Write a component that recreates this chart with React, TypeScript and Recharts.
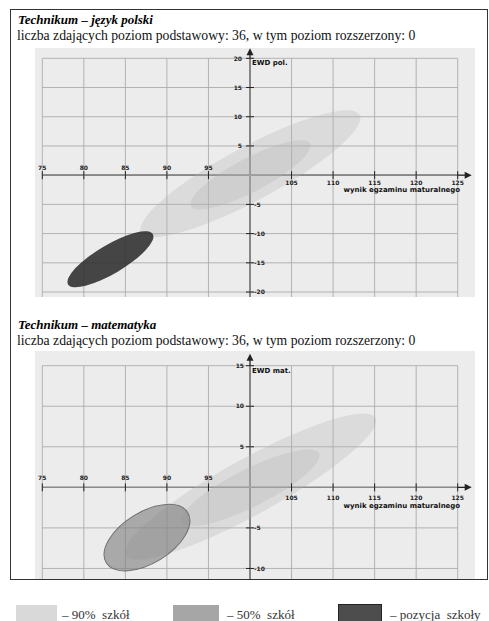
import React from "react";
import { ScatterChart, Scatter, XAxis, YAxis, ReferenceLine } from "recharts";

const xTicks = [75, 80, 85, 90, 95, 100, 105, 110, 115, 120, 125];
const polYTicks = [-20, -15, -10, -5, 0, 5, 10, 15, 20];
const matYTicks = [-10, -5, 0, 5, 10, 15];

const xName = "wynik egzaminu maturalnego";

// each ellipse: two ends of the long axis, then one end of the short axis
const polAll = [
  { x: 86.9, y: -9.8 },
  { x: 113.2, y: 10.3 },
  { x: 101.6, y: -3.8 },
];
const polHalf = [
  { x: 92.9, y: -5.3 },
  { x: 107.2, y: 5.4 },
  { x: 101.0, y: -2.5 },
];
const polSchool = [
  { x: 78.1, y: -18.7 },
  { x: 88.3, y: -10.1 },
  { x: 84.1, y: -16.5 },
];

const matAll = [
  { x: 85.0, y: -8.4 },
  { x: 115.1, y: 8.6 },
  { x: 101.7, y: -2.9 },
];
const matHalf = [
  { x: 91.8, y: -4.3 },
  { x: 108.3, y: 4.2 },
  { x: 101.1, y: -2.1 },
];
const matSchool = [
  { x: 82.7, y: -9.3 },
  { x: 92.5, y: -3.1 },
  { x: 89.2, y: -8.9 },
];

const AXIS = "#222";
const GRID = "#ababab";
const SANS = "DejaVu Sans";
const SERIF = "Liberation Serif";

function ellipseLine(fill: string, opacity: number, stroke?: string) {
  return (props: any) => {
    const pts = props.points;
    if (!pts || pts.length < 3) return <g />;
    const [p1, p2, m] = pts;
    const cx = (p1.x + p2.x) / 2;
    const cy = (p1.y + p2.y) / 2;
    const dx = p2.x - p1.x;
    const dy = p2.y - p1.y;
    const len = Math.hypot(dx, dy);
    const ry = Math.abs((m.x - cx) * dy - (m.y - cy) * dx) / len;
    const angle = (Math.atan2(dy, dx) * 180) / Math.PI;
    return (
      <ellipse
        cx={cx}
        cy={cy}
        rx={len / 2}
        ry={ry}
        transform={`rotate(${angle} ${cx} ${cy})`}
        fill={fill}
        fillOpacity={opacity}
        stroke={stroke || "none"}
        strokeWidth={1}
      />
    );
  };
}

// grid: consecutive point pairs become one segment each
const gridLines = (props: any) => {
  const pts = props.points || [];
  let d = "";
  for (let i = 0; i + 1 < pts.length; i += 2) {
    d += `M${pts[i].x},${pts[i].y}L${pts[i + 1].x},${pts[i + 1].y}`;
  }
  return <path d={d} stroke={GRID} strokeWidth={0.9} fill="none" />;
};

const noDot = () => <g />;

type PanelProps = {
  top: number;
  height: number;
  gridTop: number;
  yTicks: number[];
  yMin: number;
  yName: string;
  all: { x: number; y: number }[];
  half: { x: number; y: number }[];
  school: { x: number; y: number }[];
  schoolFill: string;
  schoolOpacity: number;
  schoolStroke?: string;
  arrowUp: number;
  labelAbove: number;
  labelBelow: number;
  nameBelow: number;
  yLabelGap: number;
};

function Panel(p: PanelProps) {
  const yMax = p.yTicks[p.yTicks.length - 1];
  const xMin = xTicks[0];
  const xMax = xTicks[xTicks.length - 1];
  const xTickPts = xTicks.filter((v) => v !== 100).map((v) => ({ x: v, y: 0 }));
  const yTickPts = p.yTicks.filter((v) => v !== 0).map((v) => ({ x: 100, y: v }));
  const vGrid = xTicks.flatMap((v) => [
    { x: v, y: yMax },
    { x: v, y: p.yMin },
  ]);
  const hGrid = p.yTicks.flatMap((v) => [
    { x: xMin, y: v },
    { x: xMax, y: v },
  ]);
  const tips = [
    { x: xMax, y: 0, kind: "x", name: xName },
    { x: 100, y: yMax, kind: "y", name: p.yName },
  ];

  const xTickShape = (s: any) => {
    const v = s.payload.x;
    const below = v > 100;
    return (
      <g>
        <line x1={s.cx} x2={s.cx} y1={s.cy - 4} y2={s.cy + 4} stroke={AXIS} strokeWidth={1} />
        <text
          x={s.cx}
          y={below ? s.cy + p.labelBelow : s.cy - p.labelAbove}
          textAnchor="middle"
          fontFamily={SANS}
          fontWeight="bold"
          fontSize={6}
          fill="#222"
        >
          {v}
        </text>
      </g>
    );
  };

  const yTickShape = (s: any) => {
    const v = s.payload.y;
    const pos = v > 0;
    return (
      <g>
        <line x1={s.cx - 4} x2={s.cx + 4} y1={s.cy} y2={s.cy} stroke={AXIS} strokeWidth={1} />
        <text
          x={pos ? s.cx - p.yLabelGap : s.cx + 4}
          y={s.cy + 2.2}
          textAnchor={pos ? "end" : "start"}
          fontFamily={SANS}
          fontWeight="bold"
          fontSize={6}
          fill="#222"
        >
          {v}
        </text>
      </g>
    );
  };

  const tipShape = (s: any) => {
    const d = s.payload;
    if (d.kind === "x") {
      return (
        <g>
          <line x1={s.cx} x2={s.cx + 9} y1={s.cy} y2={s.cy} stroke={AXIS} strokeWidth={1.3} />
          <polygon
            points={`${s.cx + 14},${s.cy} ${s.cx + 7},${s.cy - 3.5} ${s.cx + 7},${s.cy + 3.5}`}
            fill={AXIS}
          />
          <text
            x={s.cx + 2.5}
            y={s.cy + p.nameBelow}
            textAnchor="end"
            fontFamily={SANS}
            fontWeight="bold"
            fontSize={7}
            fill="#111"
          >
            {d.name}
          </text>
        </g>
      );
    }
    const tip = s.cy - p.arrowUp;
    return (
      <g>
        <line x1={s.cx} x2={s.cx} y1={s.cy} y2={tip + 5} stroke={AXIS} strokeWidth={1.3} />
        <polygon
          points={`${s.cx},${tip} ${s.cx - 3.5},${tip + 7} ${s.cx + 3.5},${tip + 7}`}
          fill={AXIS}
        />
        <text
          x={s.cx + 2}
          y={s.cy + 7}
          fontFamily={SANS}
          fontWeight="bold"
          fontSize={7}
          fill="#111"
        >
          {d.name}
        </text>
      </g>
    );
  };

  return (
    <div
      style={{
        position: "absolute",
        left: 35,
        top: p.top,
        width: 440,
        height: p.height,
        background: "#ececec",
      }}
    >
      <ScatterChart
        width={440}
        height={p.height}
        margin={{ top: p.gridTop, right: 17.3, bottom: 0, left: 7.3 }}
      >
        <XAxis
          type="number"
          dataKey="x"
          domain={[xMin, xMax]}
          height={0}
          tick={false}
          tickLine={false}
          axisLine={false}
        />
        <YAxis
          type="number"
          dataKey="y"
          domain={[p.yMin, yMax]}
          width={0}
          tick={false}
          tickLine={false}
          axisLine={false}
        />
        <Scatter data={vGrid} line={gridLines} lineType="joint" shape={noDot} isAnimationActive={false} />
        <Scatter data={hGrid} line={gridLines} lineType="joint" shape={noDot} isAnimationActive={false} />
        <Scatter
          data={p.all}
          line={ellipseLine("#b2b2b2", 0.3)}
          lineType="joint"
          shape={noDot}
          isAnimationActive={false}
        />
        <Scatter
          data={p.half}
          line={ellipseLine("#b2b2b2", 0.3)}
          lineType="joint"
          shape={noDot}
          isAnimationActive={false}
        />
        <Scatter
          data={p.school}
          line={ellipseLine(p.schoolFill, p.schoolOpacity, p.schoolStroke)}
          lineType="joint"
          shape={noDot}
          isAnimationActive={false}
        />
        <ReferenceLine x={100} stroke={AXIS} strokeWidth={1.3} />
        <ReferenceLine y={0} stroke={AXIS} strokeWidth={1.3} />
        <Scatter data={xTickPts} shape={xTickShape} isAnimationActive={false} />
        <Scatter data={yTickPts} shape={yTickShape} isAnimationActive={false} />
        <Scatter data={tips} shape={tipShape} isAnimationActive={false} />
      </ScatterChart>
    </div>
  );
}

const titleStyle: React.CSSProperties = {
  position: "absolute",
  left: 18,
  fontFamily: SERIF,
  fontWeight: "bold",
  fontStyle: "italic",
  fontSize: 13,
  lineHeight: "13px",
  color: "#000",
  whiteSpace: "nowrap",
};

const subStyle: React.CSSProperties = {
  position: "absolute",
  left: 17,
  fontFamily: SERIF,
  fontSize: 13.7,
  lineHeight: "14px",
  color: "#111",
  whiteSpace: "nowrap",
};

const legendText: React.CSSProperties = {
  position: "absolute",
  top: 608,
  fontFamily: SERIF,
  fontSize: 13,
  lineHeight: "13px",
  color: "#333",
  whiteSpace: "pre",
};

export default function App() {
  return (
    <div
      style={{
        position: "absolute",
        left: 0,
        top: 0,
        width: 489,
        height: 621,
        background: "#fff",
        overflow: "hidden",
      }}
    >
      <div style={{ ...titleStyle, top: 13 }}>Technikum – język polski</div>
      <div style={{ ...subStyle, top: 29 }}>
        liczba zdających poziom podstawowy: 36, w tym poziom rozszerzony: 0
      </div>
      <Panel
        top={48}
        height={249}
        gridTop={10.3}
        yTicks={polYTicks}
        yMin={-20.85}
        yName="EWD pol."
        all={polAll}
        half={polHalf}
        school={polSchool}
        schoolFill="#2e2e2e"
        schoolOpacity={0.88}
        arrowUp={10}
        labelAbove={5}
        labelBelow={9.5}
        nameBelow={17}
        yLabelGap={8}
      />

      <div style={{ ...titleStyle, top: 318 }}>Technikum – matematyka</div>
      <div style={{ ...subStyle, top: 334 }}>
        liczba zdających poziom podstawowy: 36, w tym poziom rozszerzony: 0
      </div>
      <Panel
        top={351}
        height={228}
        gridTop={14.7}
        yTicks={matYTicks}
        yMin={-11.3}
        yName="EWD mat."
        all={matAll}
        half={matHalf}
        school={matSchool}
        schoolFill="#808080"
        schoolOpacity={0.62}
        schoolStroke="#6e6e6e"
        arrowUp={12}
        labelAbove={7}
        labelBelow={12.5}
        nameBelow={21}
        yLabelGap={6}
      />

      <div
        style={{
          position: "absolute",
          left: 10,
          top: 9,
          width: 476,
          height: 569,
          border: "1px solid #333",
          pointerEvents: "none",
        }}
      />

      <div style={{ position: "absolute", left: 16, top: 605, width: 41, height: 20, background: "#d9d9d9" }} />
      <div style={{ ...legendText, left: 62 }}>{"– 90%  szkół"}</div>
      <div style={{ position: "absolute", left: 173, top: 605, width: 46, height: 20, background: "#a6a6a6" }} />
      <div style={{ ...legendText, left: 227 }}>{"– 50%  szkół"}</div>
      <div
        style={{
          position: "absolute",
          left: 338,
          top: 604,
          width: 42,
          height: 20,
          background: "#4d4d4d",
          border: "1px solid #222",
        }}
      />
      <div style={{ ...legendText, left: 390 }}>{"– pozycja  szkoły"}</div>
    </div>
  );
}
